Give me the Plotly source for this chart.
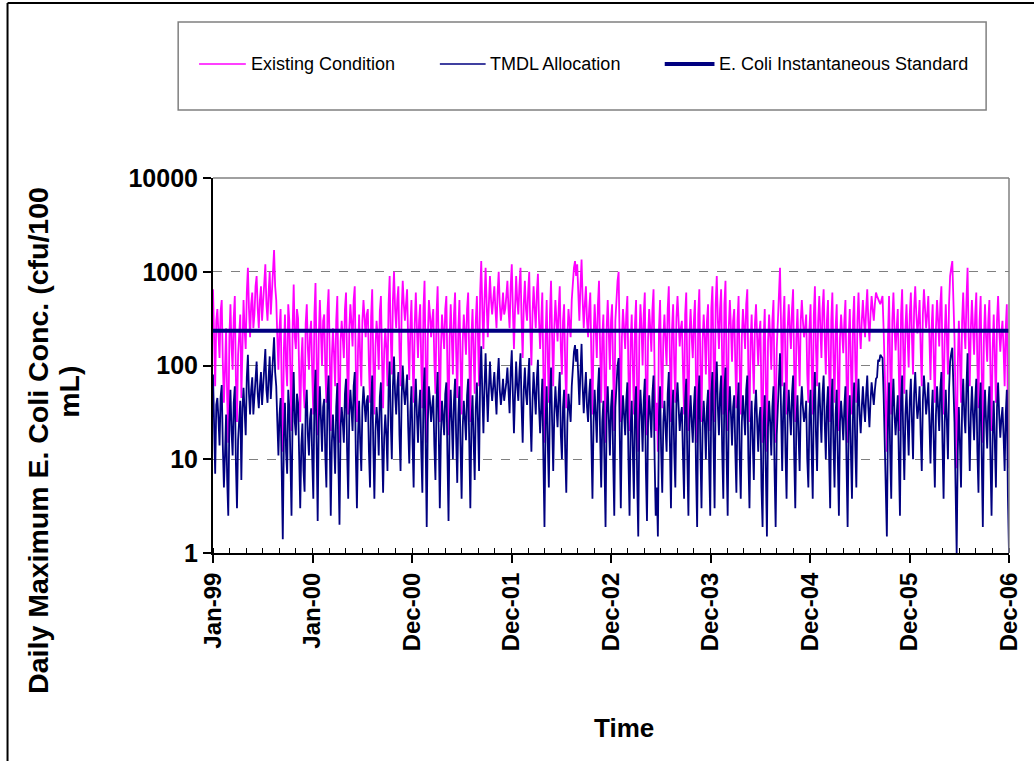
import plotly.graph_objects as go
import pandas as pd

# ---------------- data (~4-day samples) ----------------
start_date = "1999-01-01"
step_days = 4

existing_condition = [
    650, 180, 60, 300, 400, 220, 120, 380, 500, 110, 40, 90, 250, 45, 15, 200, 450, 160, 90, 320,
    550, 70, 25, 130, 200, 350, 45, 280, 500, 240, 150, 600,
    1100, 400, 200, 450, 600, 250, 350, 700, 900, 400, 250, 500, 700, 300, 500, 800, 1200, 450,
    300, 600, 1000, 350, 650, 900, 1700, 700,
    500, 200, 90, 250, 400, 60,
    12, 150, 350, 100, 60, 450, 300, 80, 20, 250, 730, 200, 150, 400, 320, 90, 25, 110, 200, 60,
    35, 280, 450, 150, 90, 220, 300, 80,
    30, 350, 760, 120, 18, 200, 500, 220, 100, 300, 350, 90, 40, 380, 650, 150, 20, 120, 250, 130,
    60, 300, 550, 70, 15, 180, 300, 200, 120, 400,
    600, 100, 30, 250, 450, 280, 160, 500, 700, 90, 25, 150, 350, 120, 60, 300, 500, 320, 200, 350,
    400, 100, 40, 330, 650, 110, 30, 160, 300, 200, 90, 380, 550, 120, 35, 140, 250, 150, 60, 450,
    900, 200, 80, 500, 1000, 400, 250, 500, 700, 150, 60, 380, 800, 450, 300, 450, 650, 180, 70, 260,
    500, 120,
    40, 280, 600, 250, 120, 300, 450, 100, 35, 400, 800, 120, 15, 200, 500, 350, 200, 300, 400, 110,
    50, 350, 700, 160, 25, 150, 350, 230, 150, 400, 550, 90, 18, 200, 450, 200, 80, 350, 600, 140,
    45, 250,
    500, 110, 30, 180, 350, 220, 130, 400, 600, 120, 25, 200, 400, 130, 50, 300, 550, 200,
    60, 600, 1300, 400, 150, 500, 1100, 450, 200, 450, 900, 500, 350, 500, 700, 400, 250, 600, 1000, 450,
    300, 400, 600, 350, 400, 550, 800, 400, 250, 700,
    1200, 400, 150, 400, 900, 500, 350, 700, 1100, 300, 120, 450, 800, 400, 300, 600, 1000, 250, 100, 350,
    700, 400, 250, 600, 950, 300, 150, 300, 600, 80, 15, 200, 500, 120,
    40, 350, 800, 200, 60, 250, 500, 300, 180, 400, 700, 150, 80, 300, 450, 100, 35, 200,
    400, 280, 200, 500, 900, 1100, 1300, 900, 1200, 500, 300, 700, 1350, 500, 250, 450, 700, 300, 200, 400,
    600, 120, 30, 200, 450, 250, 120, 450, 800, 150, 40, 200, 350, 70, 15, 250, 500, 220, 90, 300,
    450, 80, 20, 300, 600, 800, 1000, 150, 25, 200, 400, 250, 150, 350, 550, 80, 20, 180, 350, 100,
    30, 280, 500, 50, 12, 200, 450, 250, 100, 350,
    600, 60, 18, 200, 400, 250, 140, 400, 650, 80, 20, 40, 12, 250, 500, 100, 35, 200, 350, 180,
    100, 400, 700, 120, 25, 250, 450, 100, 40, 320, 550, 300, 160, 250, 300, 90, 30, 350, 600, 80,
    20, 220, 400, 200, 120, 300, 500, 60, 15, 350, 650, 100, 25, 180, 350, 200, 80, 300, 450, 70,
    20, 400,
    700, 120, 25, 450, 900, 300, 150, 400, 650, 100, 30, 450, 800, 90, 20, 250, 500, 250, 110, 300,
    400, 100, 35, 300,
    550, 90, 30, 200, 400, 250, 150, 450, 650, 80, 25, 180, 350, 120, 50, 280, 450, 200, 100, 220,
    300, 40,
    15, 200, 400, 60, 12, 180, 350, 200, 90, 300, 500, 60, 15, 150, 300, 700, 1100, 250,
    60, 300, 550, 100, 30, 250, 450, 250, 150, 400, 650, 90, 25, 200, 400, 150, 60, 300, 500, 300,
    200, 250, 350, 80, 40, 250, 450, 100,
    30, 350, 700, 150, 60, 300, 550, 250, 120, 400, 650, 200, 80, 300, 500, 90, 25, 300, 600, 120,
    40, 250,
    450, 80, 20, 200, 350, 220, 135, 300, 500, 70, 15, 200, 400, 100, 30, 300,
    550, 110, 40, 300, 600, 250, 150, 300, 500, 300, 200, 400, 650, 300, 180, 350, 550, 400, 300, 450,
    600, 550, 500, 480, 450, 500, 550, 250, 100, 40, 12, 200,
    550, 100, 30, 300, 600, 250, 145, 250, 400, 80, 20, 350, 650, 150, 50, 250, 450, 200, 95, 350,
    600, 200, 80, 400, 700, 350, 220, 300, 500, 150, 60, 350, 650, 400, 250, 350, 550, 200, 70, 250,
    450, 120,
    40, 250, 500, 300, 160, 450, 700, 120, 30, 200, 450, 200, 80, 450, 900, 1100, 1300, 500, 200, 40,
    8, 100,
    300, 120, 40, 300, 600, 250, 150, 500, 1100, 200, 60, 250, 500, 250, 130, 350, 600, 100, 35, 300,
    550, 80, 15, 200, 450, 200, 110, 300, 500, 80, 20, 150, 350, 120, 40, 300, 550, 250, 140, 220,
    300, 150, 60, 250, 450, 30, 8,
]

tmdl_allocation = [
    80, 22, 7, 38, 45, 27, 14, 46, 62, 14, 5, 11, 30, 6, 2.5, 25, 55, 20, 11, 40,
    60, 9, 3, 16, 25, 42, 6, 35, 58, 30, 18, 75,
    130, 50, 30, 55, 75, 30, 45, 85, 110, 50, 35, 60, 85, 38, 60, 100, 150, 55,
    40, 75, 125, 44, 80, 110, 200, 85,
    60, 25, 11, 30, 45, 7.5,
    1.4, 18, 40, 12, 7, 55, 35, 10, 2.5, 30, 85, 25, 18, 50, 40, 11, 3, 14, 24, 7.5,
    4.5, 35, 55, 18, 11, 27, 35, 10,
    3.8, 42, 90, 15, 2.2, 25, 60, 27, 12, 36, 44, 11, 5, 46, 78, 18, 2.5, 15, 30, 16,
    7, 36, 65, 9, 2, 22, 36, 25, 15, 50,
    72, 12, 3.8, 30, 55, 34, 20, 60, 85, 11, 3, 18, 42, 15, 7.5, 36, 60, 38, 25, 42,
    48, 12, 5, 40, 78, 14, 3.8, 20, 36, 25, 11, 46, 66, 15, 4.4, 17, 30, 18, 7.5, 55,
    110, 25, 10, 60, 125, 50, 30, 60, 85, 18, 7.5, 46, 100, 55, 38, 55, 80, 22, 9, 32,
    60, 15,
    5, 35, 72, 30, 15, 36, 55, 12, 4.4, 50, 95, 15, 1.9, 25, 60, 42, 25, 36, 48, 14,
    6, 42, 85, 20, 3, 18, 42, 28, 18, 50, 66, 11, 2.2, 25, 55, 25, 10, 42, 72, 17,
    5.6, 30,
    60, 14, 3.8, 22, 42, 27, 16, 48, 72, 15, 3, 25, 48, 16, 6, 36, 66, 25,
    7.5, 75, 160, 50, 19, 60, 135, 55, 25, 55, 110, 60, 42, 60, 85, 50, 30, 75, 120, 55,
    38, 50, 72, 42, 50, 66, 95, 50, 31, 85,
    145, 50, 19, 50, 110, 60, 42, 85, 135, 36, 15, 55, 95, 50, 38, 72, 120, 30, 12, 42,
    85, 50, 30, 72, 115, 36, 19, 36, 72, 10, 1.9, 25, 60, 15,
    5, 42, 95, 25, 7.5, 30, 60, 36, 22, 50, 85, 18, 10, 36, 55, 12, 4.4, 25,
    50, 35, 25, 60, 110, 140, 165, 110, 150, 60, 38, 85, 170, 60, 31, 55, 85, 36, 25, 50,
    72, 15, 3.8, 25, 55, 30, 15, 55, 95, 18, 5, 25, 42, 9, 1.9, 30, 60, 27, 11, 36,
    55, 10, 2.5, 36, 72, 100, 120, 18, 3, 25, 48, 30, 18, 42, 66, 10, 2.5, 22, 42, 12,
    3.8, 35, 60, 6, 1.5, 25, 55, 30, 12, 42,
    72, 7.5, 2.2, 25, 48, 30, 17, 50, 78, 10, 2.5, 5, 1.5, 30, 60, 12, 4.4, 25, 42, 22,
    12, 50, 85, 15, 3, 30, 55, 12, 5, 40, 66, 36, 20, 30, 36, 11, 3.8, 42, 72, 10,
    2.5, 27, 48, 25, 15, 36, 60, 7.5, 1.9, 42, 78, 12, 3, 22, 42, 25, 10, 36, 55, 9,
    2.5, 50,
    85, 15, 3, 55, 110, 36, 18, 50, 78, 12, 3.8, 55, 95, 11, 2.5, 30, 60, 30, 14, 36,
    48, 12, 4.4, 36,
    66, 11, 3.8, 25, 48, 30, 18, 55, 78, 10, 3, 22, 42, 15, 6, 35, 55, 25, 12, 27,
    36, 5,
    1.9, 25, 48, 7.5, 1.5, 22, 42, 25, 11, 36, 60, 7.5, 1.9, 18, 36, 85, 135, 30,
    7.5, 36, 66, 12, 3.8, 30, 55, 30, 18, 50, 78, 11, 3, 25, 48, 18, 7.5, 36, 60, 36,
    25, 30, 42, 10, 5, 30, 55, 12,
    3.8, 42, 85, 18, 7.5, 36, 66, 30, 15, 50, 78, 25, 10, 36, 60, 11, 3, 36, 72, 15,
    5, 30,
    55, 10, 2.5, 25, 42, 27, 16, 36, 60, 9, 1.9, 25, 48, 12, 3.8, 36,
    66, 14, 5, 36, 72, 30, 19, 36, 60, 36, 25, 50, 78, 36, 22, 42, 66, 50, 38, 55,
    72, 75, 115, 110, 130, 125, 120, 50, 12, 5, 1.5, 25,
    66, 12, 3.8, 36, 72, 30, 18, 30, 48, 10, 2.5, 42, 78, 18, 6, 30, 55, 25, 11, 42,
    72, 25, 10, 50, 85, 42, 27, 36, 60, 18, 7.5, 42, 78, 50, 30, 42, 66, 25, 9, 30,
    55, 15,
    5, 30, 60, 36, 20, 55, 85, 15, 3.8, 25, 55, 25, 10, 55, 110, 135, 155, 60, 25, 5,
    1, 12,
    36, 15, 5, 36, 72, 30, 19, 60, 135, 25, 7.5, 30, 60, 30, 16, 42, 72, 12, 4.4, 36,
    66, 10, 1.9, 25, 55, 25, 13, 36, 60, 10, 2.5, 18, 42, 15, 5, 36, 66, 30, 17, 27,
    36, 18, 7.5, 30, 55, 4, 1,
]

instantaneous_standard = 235

tick_dates = ["1999-01-01", "2000-01-01", "2000-12-31", "2001-12-31", "2002-12-31",
              "2003-12-31", "2004-12-30", "2005-12-30", "2006-12-30"]
tick_labels = ["Jan-99", "Jan-00", "Dec-00", "Dec-01", "Dec-02",
               "Dec-03", "Dec-04", "Dec-05", "Dec-06"]

y_tick_vals = [1, 10, 100, 1000, 10000]
y_tick_labels = ["1", "10", "100", "1000", "10000"]

legend_names = ["Existing Condition", "TMDL Allocation", "E. Coli Instantaneous Standard"]

dates_e = pd.date_range(start_date, periods=len(existing_condition), freq=f"{step_days}D")
dates_t = pd.date_range(start_date, periods=len(tmdl_allocation), freq=f"{step_days}D")

# ---------------- layout geometry (pixels) ----------------
W_PX, H_PX = 1034, 761
L, R, T, B = 213, 1013, 178, 553
PW, PH = R - L, B - T


def px(x):
    return (x - L) / PW


def py(y):
    return (B - y) / PH


MAGENTA = "#FF00FF"
NAVY = "#000080"
FONT = "Liberation Sans, Arial, sans-serif"

fig = go.Figure()
fig.add_trace(go.Scatter(x=dates_e, y=existing_condition, mode="lines",
                         line=dict(color=MAGENTA, width=1.8), name=legend_names[0],
                         showlegend=False))
fig.add_trace(go.Scatter(x=dates_t, y=tmdl_allocation, mode="lines",
                         line=dict(color=NAVY, width=1.8), name=legend_names[1],
                         showlegend=False))
fig.add_trace(go.Scatter(x=[tick_dates[0], tick_dates[-1]],
                         y=[instantaneous_standard, instantaneous_standard],
                         mode="lines", line=dict(color=NAVY, width=4),
                         name=legend_names[2], showlegend=False))

day_ms = 86400000
fig.update_xaxes(
    type="date",
    range=[tick_dates[0], tick_dates[-1]],
    tickvals=tick_dates, ticktext=tick_labels,
    tickangle=-90,
    tickfont=dict(family=FONT, size=24, color="black", weight="bold"),
    ticks="outside", ticklen=8, tickwidth=1.5, tickcolor="black",
    showline=True, linecolor="black", linewidth=2,
    showgrid=False, zeroline=False,
    minor=dict(ticks="inside", ticklen=5, tickwidth=1, tickcolor="black",
               tick0=tick_dates[0], dtick=365 / 6 * day_ms, showgrid=False),
)
fig.update_yaxes(
    type="log",
    range=[0, 4],
    tickvals=y_tick_vals, ticktext=y_tick_labels,
    tickfont=dict(family=FONT, size=25, color="black", weight="bold"),
    ticks="outside", ticklen=8, tickwidth=1.5, tickcolor="black",
    showline=True, linecolor="black", linewidth=2,
    showgrid=True, gridcolor="#808080", griddash="dash", gridwidth=1,
    zeroline=False,
)

shapes = []
# plot-area frame (top / right, gray)
shapes.append(dict(type="line", xref="paper", yref="paper", x0=0, x1=1, y0=1, y1=1,
                   line=dict(color="#808080", width=1.5)))
shapes.append(dict(type="line", xref="paper", yref="paper", x0=1, x1=1, y0=0, y1=1,
                   line=dict(color="#808080", width=1.5)))
# chart-area border (left / top visible)
shapes.append(dict(type="line", xref="paper", yref="paper", x0=px(6.5), x1=px(6.5),
                   y0=py(3), y1=py(H_PX + 5), line=dict(color="black", width=2)))
shapes.append(dict(type="line", xref="paper", yref="paper", x0=px(6.5), x1=px(W_PX + 5),
                   y0=py(3), y1=py(3), line=dict(color="black", width=2)))
# legend box
shapes.append(dict(type="rect", xref="paper", yref="paper", x0=px(178), x1=px(990),
                   y0=py(22), y1=py(110), line=dict(color="#808080", width=1.5)))
# legend samples
legend_y = 64
samples = [(199, 246, MAGENTA, 1.6), (441, 487, NAVY, 1.6), (667, 717, NAVY, 4)]
for x0, x1, col, wd in samples:
    shapes.append(dict(type="line", xref="paper", yref="paper", x0=px(x0), x1=px(x1),
                       y0=py(legend_y), y1=py(legend_y), line=dict(color=col, width=wd)))

annotations = []
text_starts = [249, 489, 720]
for name, xs in zip(legend_names, text_starts):
    annotations.append(dict(text=name, xref="paper", yref="paper", x=px(xs), y=py(legend_y),
                            xanchor="left", yanchor="middle", showarrow=False,
                            font=dict(family=FONT, size=18, color="black")))
# axis titles
annotations.append(dict(text="Time", xref="paper", yref="paper", x=px(626), y=py(728),
                        xanchor="center", yanchor="middle", showarrow=False,
                        font=dict(family=FONT, size=26, color="black", weight="bold")))
annotations.append(dict(text="Daily Maximum E. Coli Conc. (cfu/100", xref="paper", yref="paper",
                        x=px(37), y=py(440), xanchor="center", yanchor="middle",
                        textangle=-90, showarrow=False,
                        font=dict(family=FONT, size=28.5, color="black", weight="bold")))
annotations.append(dict(text="mL)", xref="paper", yref="paper",
                        x=px(68), y=py(392), xanchor="center", yanchor="middle",
                        textangle=-90, showarrow=False,
                        font=dict(family=FONT, size=28.5, color="black", weight="bold")))

fig.update_layout(
    width=W_PX, height=H_PX,
    margin=dict(l=L, r=W_PX - R, t=T, b=H_PX - B, pad=0),
    paper_bgcolor="white", plot_bgcolor="white",
    showlegend=False,
    shapes=shapes, annotations=annotations,
    font=dict(family=FONT, color="black"),
)

# remove the default page margin so the figure sits at the window origin
fig.write_html("out.html",
               config={"displayModeBar": False},
               post_script="document.body.style.margin='0';document.body.style.overflow='hidden';")
